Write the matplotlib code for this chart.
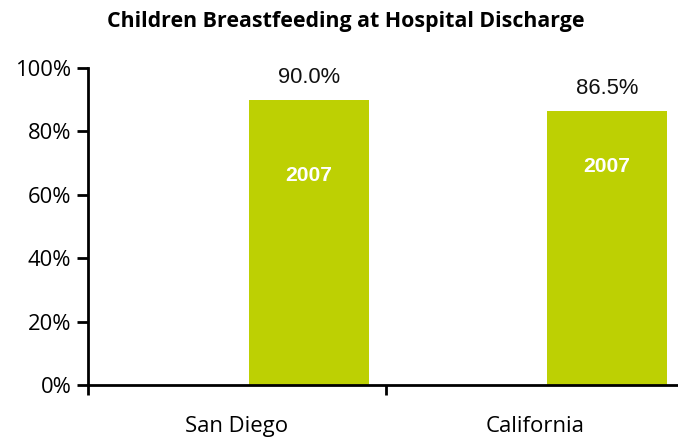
import matplotlib
matplotlib.use("Agg")
import matplotlib.pyplot as plt
import numpy as np

categories = ["San Diego", "California"]
values_2007 = [90.0, 86.5]
series_label = "2007"
yticks = [0, 20, 40, 60, 80, 100]
ytick_labels = ["0%", "20%", "40%", "60%", "80%", "100%"]
inner_label_y = [66.2, 68.8]

W, H = 678, 437
fig = plt.figure(figsize=(W / 100, H / 100), dpi=100)
ax = fig.add_axes([88 / W, 1 - 385 / H, (684 - 88) / W, (385 - 68) / H])

x = np.arange(len(categories))
offset = 0.242
width = 0.403
bar_color = "#BDD003"
ax.bar(x + offset, values_2007, width=width, color=bar_color, zorder=2)

for xi, v, ly in zip(x, values_2007, inner_label_y):
    ax.text(xi + offset, v + 7.0, f"{v:.1f}%", ha="center", va="center",
            fontsize=15.8, family="Liberation Sans", color="#111111")
    ax.text(xi + offset, ly, series_label, ha="center", va="center",
            fontsize=15.2, family="Liberation Sans", fontweight="bold", color="white")

ax.set_xlim(-0.5, len(categories) - 0.5)
ax.set_ylim(0, 100)
ax.set_yticks(yticks)
ax.set_yticklabels(ytick_labels, family="Open Sans", fontsize=15.8)
ax.set_xticks(x)
ax.set_xticklabels(categories, family="Open Sans", fontsize=15.9)
ax.tick_params(axis="x", length=0, pad=22)
ax.set_xticks(np.arange(len(categories) + 1) - 0.5, minor=True)
ax.tick_params(axis="x", which="minor", direction="out", length=7, width=2, color="black")
ax.tick_params(axis="y", direction="out", length=8, width=2, color="black", pad=4)

for s in ["top", "right"]:
    ax.spines[s].set_visible(False)
for s in ["left", "bottom"]:
    ax.spines[s].set_linewidth(2)
    ax.spines[s].set_color("black")

fig.text(346 / W, 1 - 21 / H, "Children Breastfeeding at Hospital Discharge",
         ha="center", va="center", fontsize=15.4, fontweight="bold", family="Open Sans")

fig.savefig("out.png", dpi=100)
